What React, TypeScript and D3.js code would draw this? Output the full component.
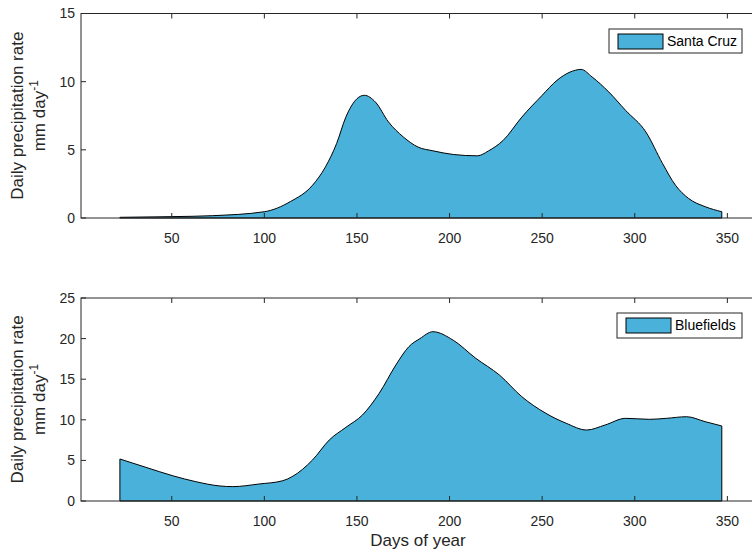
import React from "react";
import * as d3 from "d3";

const xTicks = [50, 100, 150, 200, 250, 300, 350];
const topYTicks = [0, 5, 10, 15];
const botYTicks = [0, 5, 10, 15, 20, 25];

const scDays = [22, 50, 72, 100, 114, 126, 133, 139, 144, 150, 154, 160, 167, 175, 183, 191, 202, 215, 221, 229, 239, 250, 258, 265, 271, 277, 286, 295, 306, 315, 322, 329, 338, 347];
const scRate = [0.05, 0.1, 0.17, 0.46, 1.2, 2.4, 3.75, 5.46, 7.4, 8.75, 9.0, 8.5, 7.05, 5.95, 5.2, 4.93, 4.66, 4.56, 4.92, 5.7, 7.4, 9.0, 10.1, 10.7, 10.9, 10.34, 9.24, 7.9, 6.31, 4.0, 2.4, 1.44, 0.83, 0.46];

const bfDays = [22, 36, 51, 63, 76, 83, 97, 110, 115, 126, 135, 144, 153, 162, 171, 178, 184, 191, 202, 214, 227, 239, 252, 263, 274, 284, 295, 308, 317, 328, 338, 347];
const bfRate = [5.17, 4.15, 3.08, 2.38, 1.85, 1.77, 2.09, 2.5, 3.0, 5.05, 7.5, 9.07, 10.6, 13.26, 16.75, 19.0, 20.0, 20.85, 19.8, 17.6, 15.5, 12.85, 10.8, 9.57, 8.74, 9.36, 10.18, 10.06, 10.18, 10.38, 9.77, 9.24];

const FONT = "'Liberation Sans', Arial, Helvetica, sans-serif";
const AXIS = "#262626";
const FILL = "#4AB2DA";

type PanelProps = {
  days: number[];
  rates: number[];
  yMax: number;
  yTicks: number[];
  top: number;
  bottom: number;
  name: string;
  legendBox: { x: number; y: number; w: number; h: number };
};

const LEFT = 81;
const RIGHT = 757;

function Panel({ days, rates, yMax, yTicks, top, bottom, name, legendBox }: PanelProps) {
  const x = d3.scaleLinear().domain([1, 366]).range([LEFT, RIGHT]);
  const y = d3.scaleLinear().domain([0, yMax]).range([bottom, top]);
  const pts = days.map((d, i) => [d, rates[i]] as [number, number]);
  const lineGen = d3
    .line<[number, number]>()
    .x((d) => x(d[0]))
    .y((d) => y(d[1]))
    .curve(d3.curveMonotoneX);
  const upper = lineGen(pts) || "";
  const first = pts[0];
  const last = pts[pts.length - 1];
  const path =
    `M${x(first[0])},${y(0)}L${x(first[0])},${y(first[1])}` +
    upper.replace(/^M/, "L") +
    `L${x(last[0])},${y(0)}Z`;
  const tl = 5;
  const lb = legendBox;
  return (
    <g>
      <path d={path} fill={FILL} stroke="#000" strokeWidth={1} />
      {/* box */}
      <rect x={LEFT} y={top} width={RIGHT - LEFT} height={bottom - top} fill="none" stroke={AXIS} strokeWidth={1} />
      {xTicks.map((t) => (
        <g key={"x" + t}>
          <line x1={x(t)} x2={x(t)} y1={bottom} y2={bottom - tl} stroke={AXIS} />
          <line x1={x(t)} x2={x(t)} y1={top} y2={top + tl} stroke={AXIS} />
          <text x={x(t)} y={bottom + 25} textAnchor="middle" fontSize={14} fontFamily={FONT} fill={AXIS}>
            {t}
          </text>
        </g>
      ))}
      {yTicks.map((t) => (
        <g key={"y" + t}>
          <line x1={LEFT} x2={LEFT + tl} y1={y(t)} y2={y(t)} stroke={AXIS} />
          <line x1={RIGHT} x2={RIGHT - tl} y1={y(t)} y2={y(t)} stroke={AXIS} />
          <text x={LEFT - 6} y={y(t)} dy="0.35em" textAnchor="end" fontSize={14} fontFamily={FONT} fill={AXIS}>
            {t}
          </text>
        </g>
      ))}
      <text
        transform={`translate(23,${(top + bottom) / 2}) rotate(-90)`}
        textAnchor="middle"
        fontSize={17}
        fontFamily={FONT}
        fill={AXIS}
      >
        Daily precipitation rate
      </text>
      <text
        transform={`translate(45,${(top + bottom) / 2}) rotate(-90)`}
        textAnchor="middle"
        fontSize={17}
        fontFamily={FONT}
        fill={AXIS}
      >
        mm day<tspan dy={-7} fontSize={12}>-1</tspan>
      </text>
      <rect x={lb.x} y={lb.y} width={lb.w} height={lb.h} fill="#fff" stroke={AXIS} strokeWidth={1} />
      <rect x={lb.x + 9} y={lb.y + 5} width={45} height={15} fill={FILL} stroke="#000" strokeWidth={1} />
      <text x={lb.x + 58} y={lb.y + lb.h / 2} dy="0.35em" fontSize={14} fontFamily={FONT} fill="#000">
        {name}
      </text>
    </g>
  );
}

export default function App() {
  return (
    <svg width={752} height={552} style={{ position: "absolute", left: 0, top: 0, background: "#fff" }}>
      <rect width={752} height={552} fill="#fff" />
      <Panel
        days={scDays}
        rates={scRate}
        yMax={15}
        yTicks={topYTicks}
        top={13.5}
        bottom={218}
        name="Santa Cruz"
        legendBox={{ x: 609, y: 29, w: 133, h: 24 }}
      />
      <Panel
        days={bfDays}
        rates={bfRate}
        yMax={25}
        yTicks={botYTicks}
        top={298}
        bottom={501}
        name="Bluefields"
        legendBox={{ x: 617, y: 313, w: 125, h: 25 }}
      />
      <text x={418} y={546} textAnchor="middle" fontSize={17} fontFamily={FONT} fill={AXIS}>
        Days of year
      </text>
    </svg>
  );
}
